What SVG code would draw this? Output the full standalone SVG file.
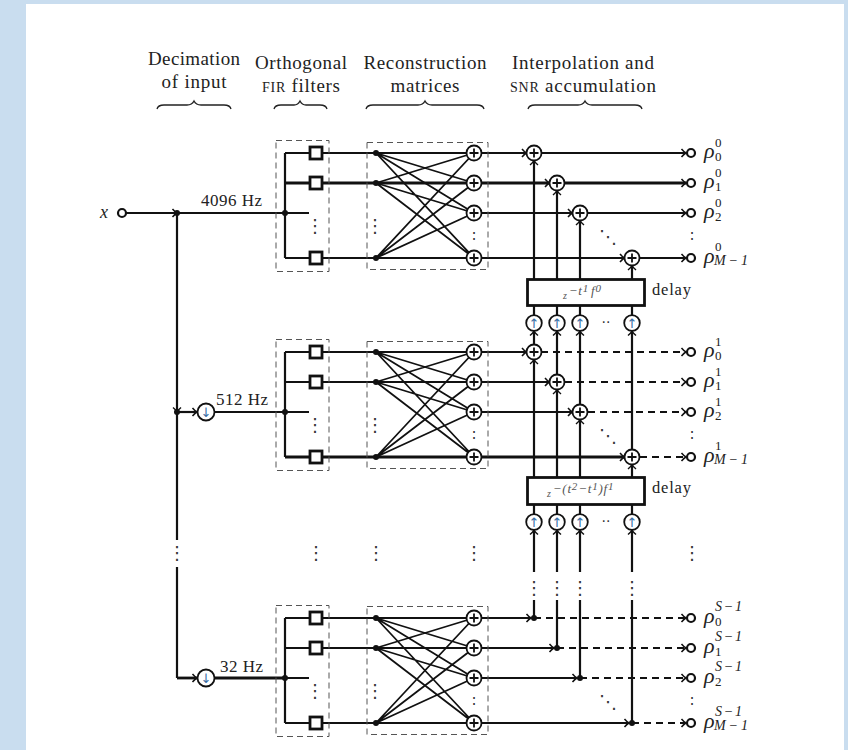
<svg xmlns="http://www.w3.org/2000/svg" xmlns:xlink="http://www.w3.org/1999/xlink" width="848" height="750" viewBox="0 0 848 750">
<style>
text{font-family:"Liberation Serif","DejaVu Serif",serif;fill:#222}
.h{font-size:19px;text-anchor:middle}
.hz{font-size:17px}
.sc{font-size:14px}
.rho{font-size:22px;font-style:italic}
.s{font-size:13px}
.m{font-style:italic;font-size:14px}
.d{font-size:16px}
.dots{font-family:"DejaVu Sans",sans-serif;font-size:18px;text-anchor:middle;fill:#333}
.ar{font-family:"DejaVu Sans",sans-serif;font-size:13px;text-anchor:middle;fill:#3a6ea5}
.e{font-style:italic;fill:#555;font-size:10px;letter-spacing:.8px}
.w{fill:none;stroke:#111;stroke-width:2.2}
.t{stroke-width:2.8}
.n{stroke-width:1.8}
.x{fill:none;stroke:#111;stroke-width:2.2;stroke-dasharray:7 5}
.a{marker-end:url(#arr)}
.box{fill:none;stroke:#555;stroke-width:1;stroke-dasharray:6 4}
.sq{fill:#fff;stroke:#111;stroke-width:2.8}
.c{fill:#fff;stroke:#111;stroke-width:1.8}
.o{fill:#fff;stroke:#111;stroke-width:2.2}
.bk{fill:#fff;stroke:#111;stroke-width:2.8}
.br{fill:none;stroke:#222;stroke-width:1.3}
.dot{fill:#111}
</style>
<defs>
<marker id="arr" viewBox="-7 -6 9 12" refX="0" refY="0" markerWidth="9" markerHeight="12" markerUnits="userSpaceOnUse" orient="auto">
<path d="M-4.5,-4 Q-2,-1 0,0 Q-2,1 -4.500,4" fill="none" stroke="#111" stroke-width="1.5"/>
</marker>
<g id="plus"><circle class="c" r="7.5"/><path d="M-4.5 0H4.5M0 -4.5V4.5" stroke="#111" stroke-width="1.8"/></g>
<g id="up"><circle class="c" r="7.8"/><text class="ar" y="5">↑</text></g>
<g id="down"><circle class="c" r="8.5"/><text class="ar" y="5">↓</text></g>
<circle id="out" class="o" r="4"/>
<circle id="j" class="dot" r="3"/>
<rect id="fir" class="sq" x="-6" y="-6" width="12" height="12"/>
</defs>
<rect width="848" height="750" fill="#c9ddef"/>
<rect x="26" y="4" width="818" height="746" fill="#fff"/>

<g id="headers">
<text class="h" x="194" y="65" textLength="92">Decimation</text>
<text class="h" x="194" y="88" textLength="65">of input</text>
<text class="h" x="301" y="69" textLength="92">Orthogonal</text>
<text class="h" x="301" y="92" textLength="78"><tspan class="sc">FIR</tspan> filters</text>
<text class="h" x="425" y="69" textLength="123">Reconstruction</text>
<text class="h" x="425" y="92" textLength="69">matrices</text>
<text class="h" x="583" y="69" textLength="142">Interpolation and</text>
<text class="h" x="583" y="92" textLength="146"><tspan class="sc">SNR</tspan> accumulation</text>
<path class="br" d="M157 109Q158 105 164 105H187Q192 105 194 101Q196 105 201 105H224Q230 105 231 109"/>
<path class="br" d="M274 109Q275 105 281 105H294Q298 105 300 101Q302 105 306 105H320Q326 105 327 109"/>
<path class="br" d="M366 109Q367 105 373 105H418Q423 105 425 101Q427 105 432 105H477Q483 105 484 109"/>
<path class="br" d="M528 109Q529 105 535 105H578Q583 105 585 101Q587 105 592 105H635Q641 105 642 109"/>
</g>

<g id="connectors">
<path class="w a" d="M126 213H177"/>
<path class="w" d="M177 213H285"/>
<path class="w a" d="M177 213V412"/>
<path class="w" d="M177 412V540M177 567V678"/>
<path class="w a" d="M177 412H197"/>
<path class="w a t" d="M177 678H197"/>
<path class="w" d="M215 412H285"/>
<path class="w t" d="M215 678H285"/>
<path class="w" d="M285 153V258M285 153H474M285 213H309M285 258H474"/>
<path class="w t" d="M285 183H474"/>
<path class="w n" d="M376 153L474 183M376 153L474 213M376 153L474 258M376 183L474 153M376 183L474 213M376 183L474 258M376 258L474 153M376 258L474 183M376 258L474 213"/>
<path class="w" d="M285 352V457M285 352H474M285 382H474M285 412H309"/>
<path class="w t" d="M285 457H474"/>
<path class="w n" d="M376 352L474 382M376 352L474 412M376 352L474 457M376 382L474 352M376 382L474 412M376 382L474 457M376 457L474 352M376 457L474 382M376 457L474 412"/>
<path class="w" d="M285 618V723M285 618H474M285 648H474M285 678H309M285 723H474"/>
<path class="w n" d="M376 618L474 648M376 618L474 678M376 618L474 723M376 648L474 618M376 648L474 678M376 648L474 723M376 723L474 618M376 723L474 648M376 723L474 678"/>
<path class="w a" d="M474 153H526.500"/>
<path class="w a t" d="M474 183H549.500"/>
<path class="w a n" d="M474 213H572.500"/>
<path class="w a" d="M474 258H624.500"/>
<path class="w a" d="M541 153H686"/>
<path class="w a t" d="M565 183H686"/>
<path class="w a" d="M588 213H686"/>
<path class="w a" d="M640 258H686"/>
<path class="w a" d="M474 352H526.500"/>
<path class="w a" d="M474 382H549.500"/>
<path class="w a n" d="M474 412H572.500"/>
<path class="w a t" d="M474 457H624.500"/>
<path class="x a" d="M541 352H686"/>
<path class="x a" d="M565 382H686"/>
<path class="x a t" d="M588 412H686"/>
<path class="x a t" d="M640 457H686"/>
<path class="w a" d="M474 618H531"/>
<path class="w a" d="M474 648H554"/>
<path class="w a n" d="M474 678H577"/>
<path class="w a" d="M474 723H629"/>
<path class="x a" d="M534 618H686"/>
<path class="x a" d="M557 648H686"/>
<path class="x a t" d="M580 678H686"/>
<path class="x a" d="M632 723H686"/>
<path class="w a" d="M534 279V160.500"/>
<path class="w a" d="M557 279V190.500"/>
<path class="w a" d="M580 279V220.500"/>
<path class="w a" d="M632 279V265.500"/>
<path class="w" d="M534 316V306M557 316V306M580 316V306M632 316V306"/>
<path class="w a" d="M534 345V331"/>
<path class="w a" d="M557 375V331"/>
<path class="w a" d="M580 405V331"/>
<path class="w a" d="M632 450V331"/>
<path class="w a" d="M534 477V359.500"/>
<path class="w a" d="M557 477V389.500"/>
<path class="w a" d="M580 477V419.500"/>
<path class="w a" d="M632 477V464.500"/>
<path class="w" d="M534 515V504M557 515V504M580 515V504M632 515V504"/>
<path class="w a" d="M534 572V530"/>
<path class="w a" d="M557 572V530"/>
<path class="w a" d="M580 572V530"/>
<path class="w a" d="M632 572V530"/>
<path class="w" d="M534 600V618M557 600V648M580 600V678M632 600V723"/>
</g>

<g id="input"><text x="100" y="218" class="rho" style="font-size:18px">x</text><use href="#out" x="122" y="213"/></g>
<g id="tap-1"><use href="#j" x="177" y="213"/></g>
<g id="tap-2"><use href="#j" x="177" y="412"/></g>
<g id="dec-512"><use href="#down" x="206" y="412"/></g>
<g id="dec-32"><use href="#down" x="206" y="678"/></g>
<g id="rates">
<text class="hz" x="201" y="206" textLength="61">4096 Hz</text>
<text class="hz" x="216" y="405" textLength="52">512 Hz</text>
<text class="hz" x="220" y="672" textLength="43">32 Hz</text>
</g>

<g id="fir-bank-1">
<rect class="box" x="276" y="140.500" width="53" height="131"/>
<use href="#j" x="285" y="213"/>
<use href="#fir" x="316" y="153"/><use href="#fir" x="316" y="183"/><use href="#fir" x="316" y="258"/>
<text class="dots" x="315" y="232">⋮</text>
</g>
<g id="matrix-1">
<rect class="box" x="367" y="142.500" width="121" height="127"/>
<use href="#j" x="376" y="153"/><use href="#j" x="376" y="183"/><use href="#j" x="376" y="258"/>
<use href="#plus" x="474" y="153"/><use href="#plus" x="474" y="183"/><use href="#plus" x="474" y="213"/><use href="#plus" x="474" y="258"/>
<text class="dots" x="375" y="232">⋮</text><text class="dots" x="474" y="240" style="font-size:15px">:</text>
</g>
<g id="sums-1">
<use href="#plus" x="534" y="153"/><use href="#plus" x="557" y="183"/><use href="#plus" x="580" y="213"/><use href="#plus" x="632" y="258"/>
<text class="dots" x="608" y="243">⋱</text>
</g>
<g id="delay-1">
<rect class="bk" x="527.500" y="279.500" width="117" height="26"/>
<text x="563" y="299" class="e" style="font-size:10px">z<tspan dy="-4" style="font-size:13px" dx="1">−t</tspan><tspan dy="-3" style="font-size:11px">1</tspan><tspan dy="3" style="font-size:13px" dx="2">f</tspan><tspan dy="-3" style="font-size:11px">0</tspan></text>
<text class="d" x="652" y="295" style="font-size:16.500px" textLength="39">delay</text>
</g>
<g id="up-1">
<use href="#up" x="534" y="323"/><use href="#up" x="557" y="323"/><use href="#up" x="580" y="323"/><use href="#up" x="632" y="323"/>
<text class="dots" x="606" y="327" style="font-size:14px">··</text>
</g>
<g id="outputs-1">
<use href="#out" x="691" y="153"/><use href="#out" x="691" y="183"/><use href="#out" x="691" y="213"/><use href="#out" x="691" y="258"/>
<text class="rho" x="704" y="158">ρ</text><text class="s" x="715" y="147">0</text><text class="s" x="715" y="161">0</text>
<text class="rho" x="704" y="188">ρ</text><text class="s" x="715" y="177">0</text><text class="s" x="715" y="191">1</text>
<text class="rho" x="704" y="218">ρ</text><text class="s" x="715" y="207">0</text><text class="s" x="715" y="221">2</text>
<text class="rho" x="704" y="263">ρ</text><text class="s" x="715" y="251">0</text><text class="s m" x="714" y="265" textLength="34">M−1</text>
<text class="dots" x="692" y="240" style="font-size:15px">:</text>
</g>

<g id="fir-bank-2">
<rect class="box" x="276" y="339.500" width="53" height="131"/>
<use href="#j" x="285" y="412"/>
<use href="#fir" x="316" y="352"/><use href="#fir" x="316" y="382"/><use href="#fir" x="316" y="457"/>
<text class="dots" x="315" y="431">⋮</text>
</g>
<g id="matrix-2">
<rect class="box" x="367" y="341.500" width="121" height="127"/>
<use href="#j" x="376" y="352"/><use href="#j" x="376" y="382"/><use href="#j" x="376" y="457"/>
<use href="#plus" x="474" y="352"/><use href="#plus" x="474" y="382"/><use href="#plus" x="474" y="412"/><use href="#plus" x="474" y="457"/>
<text class="dots" x="375" y="431">⋮</text><text class="dots" x="474" y="439" style="font-size:15px">:</text>
</g>
<g id="sums-2">
<use href="#plus" x="534" y="352"/><use href="#plus" x="557" y="382"/><use href="#plus" x="580" y="412"/><use href="#plus" x="632" y="457"/>
<text class="dots" x="608" y="442">⋱</text>
</g>
<g id="delay-2">
<rect class="bk" x="527.500" y="477.500" width="117" height="27"/>
<text x="547" y="497" class="e" style="font-size:10px">z<tspan dy="-4" style="font-size:13px" dx="1">−(t</tspan><tspan dy="-3" style="font-size:11px">2</tspan><tspan dy="3" style="font-size:13px">−t</tspan><tspan dy="-3" style="font-size:11px">1</tspan><tspan dy="3" style="font-size:13px">)f</tspan><tspan dy="-3" style="font-size:11px">1</tspan></text>
<text class="d" x="652" y="493" style="font-size:16.500px" textLength="39">delay</text>
</g>
<g id="up-2">
<use href="#up" x="534" y="522"/><use href="#up" x="557" y="522"/><use href="#up" x="580" y="522"/><use href="#up" x="632" y="522"/>
<text class="dots" x="606" y="526" style="font-size:14px">··</text>
</g>
<g id="outputs-2">
<use href="#out" x="691" y="352"/><use href="#out" x="691" y="382"/><use href="#out" x="691" y="412"/><use href="#out" x="691" y="457"/>
<text class="rho" x="704" y="357">ρ</text><text class="s" x="715" y="346">1</text><text class="s" x="715" y="360">0</text>
<text class="rho" x="704" y="387">ρ</text><text class="s" x="715" y="376">1</text><text class="s" x="715" y="390">1</text>
<text class="rho" x="704" y="417">ρ</text><text class="s" x="715" y="406">1</text><text class="s" x="715" y="420">2</text>
<text class="rho" x="704" y="462">ρ</text><text class="s" x="715" y="450">1</text><text class="s m" x="714" y="464" textLength="34">M−1</text>
<text class="dots" x="692" y="439" style="font-size:15px">:</text>
</g>

<g id="gap-dots">
<text class="dots" x="177" y="559">⋮</text><text class="dots" x="316" y="559">⋮</text><text class="dots" x="376" y="559">⋮</text><text class="dots" x="474" y="559">⋮</text><text class="dots" x="692" y="559">⋮</text>
<text class="dots" x="534" y="594">⋮</text><text class="dots" x="557" y="594">⋮</text><text class="dots" x="580" y="594">⋮</text><text class="dots" x="632" y="594">⋮</text>
</g>

<g id="fir-bank-3">
<rect class="box" x="276" y="605.500" width="53" height="131"/>
<use href="#j" x="285" y="678"/>
<use href="#fir" x="316" y="618"/><use href="#fir" x="316" y="648"/><use href="#fir" x="316" y="723"/>
<text class="dots" x="315" y="697">⋮</text>
</g>
<g id="matrix-3">
<rect class="box" x="367" y="606.500" width="121" height="128"/>
<use href="#j" x="376" y="618"/><use href="#j" x="376" y="648"/><use href="#j" x="376" y="723"/>
<use href="#plus" x="474" y="618"/><use href="#plus" x="474" y="648"/><use href="#plus" x="474" y="678"/><use href="#plus" x="474" y="723"/>
<text class="dots" x="375" y="697">⋮</text><text class="dots" x="474" y="705" style="font-size:15px">:</text>
</g>
<g id="taps-3">
<use href="#j" x="534" y="618"/><use href="#j" x="557" y="648"/><use href="#j" x="580" y="678"/><use href="#j" x="632" y="723"/>
<text class="dots" x="608" y="708">⋱</text>
</g>
<g id="outputs-3">
<use href="#out" x="691" y="618"/><use href="#out" x="691" y="648"/><use href="#out" x="691" y="678"/><use href="#out" x="691" y="723"/>
<text class="rho" x="704" y="623">ρ</text><text class="s m" x="715" y="611" textLength="27">S−1</text><text class="s" x="715" y="626">0</text>
<text class="rho" x="704" y="653">ρ</text><text class="s m" x="715" y="641" textLength="27">S−1</text><text class="s" x="715" y="656">1</text>
<text class="rho" x="704" y="683">ρ</text><text class="s m" x="715" y="671" textLength="27">S−1</text><text class="s" x="715" y="686">2</text>
<text class="rho" x="704" y="728">ρ</text><text class="s m" x="715" y="716" textLength="27">S−1</text><text class="s m" x="714" y="730" textLength="34">M−1</text>
<text class="dots" x="692" y="705" style="font-size:15px">:</text>
</g>
</svg>
